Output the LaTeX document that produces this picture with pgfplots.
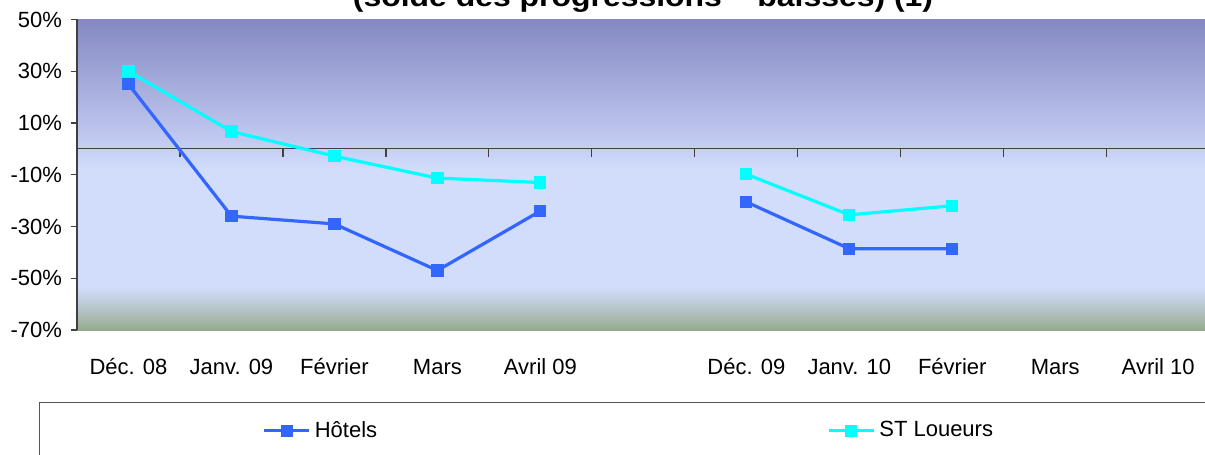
\documentclass[border=0pt]{standalone}
\usepackage{fontspec}
\setmainfont{Liberation Sans}
\usepackage{pgfplots}
\pgfplotsset{compat=1.18}
\definecolor{cA}{HTML}{96AA8D}
\definecolor{cB}{HTML}{B0BFBC}
\definecolor{cC}{HTML}{D2DDFC}
\definecolor{cD}{HTML}{C6CFF5}
\definecolor{cE}{HTML}{8588C2}
\definecolor{axisgray}{HTML}{404040}
\definecolor{legendgray}{HTML}{555555}
\definecolor{hotels}{HTML}{3366FF}
\definecolor{loueurs}{HTML}{00FFFF}
\pgfdeclareverticalshading{bgshade}{100bp}{color(0bp)=(cA); color(25bp)=(cA); color(27.7bp)=(cB); color(31.9bp)=(cC); color(50.8bp)=(cC); color(54.1bp)=(cD); color(75bp)=(cE); color(100bp)=(cE)}
\begin{document}
\begin{tikzpicture}
\begin{axis}[
  at={(0,0)}, anchor=south west, name=ax,
  scale only axis, width=566.35pt, height=155.25pt,
  xmin=-0.5, xmax=10.5, ymin=-70, ymax=50,
  axis background/.style={shading=bgshade},
  axis x line*=bottom, axis y line*=left,
  x axis line style={draw=none},
  y axis line style={draw=axisgray, line width=0.6pt, -},
  xtick={0,...,10},
  xticklabels={Déc. 08, Janv. 09, Février, Mars, Avril 09, {}, Déc. 09, Janv. 10, Février, Mars, Avril 10},
  x tick style={draw=none},
  ytick={-70,-50,-30,-10,10,30,50},
  yticklabels={-70\%,-50\%,-30\%,-10\%,10\%,30\%,50\%},
  y tick style={draw=axisgray, line width=0.6pt},
  tick align=outside, major tick length=3pt,
  ticklabel style={font=\fontsize{11}{13}\selectfont},
  xticklabel style={anchor=base, yshift=-19pt},
  yticklabel style={xshift=-1pt},
  unbounded coords=jump,
  legend columns=2,
  legend image code/.code={\draw[mark repeat=2,mark phase=2] plot coordinates {(0pt,0pt) (11.25pt,0pt) (22.5pt,0pt)};},
  legend style={at={(-0.03355,-0.2319)}, anchor=north west, draw=legendgray, line width=0.6pt, fill=white,
    inner xsep=111.5pt, inner ysep=7.25pt,
    nodes={inner sep=2pt, font=\fontsize{11}{13}\selectfont},
    /tikz/every even column/.append style={column sep=223pt}},
]
\draw[axisgray, line width=0.6pt] (axis cs:-0.5,0) -- (axis cs:10.5,0);
\pgfplotsinvokeforeach{-0.5,0.5,...,9.5}{\draw[axisgray, line width=0.6pt] (axis cs:#1,0) -- ([yshift=-4pt]axis cs:#1,0);}
\addplot[color=hotels, line width=1.6pt, mark=square*, mark size=2.25pt, mark options={solid, fill=hotels}]
  coordinates {(0,25) (1,-26) (2,-29) (3,-47) (4,-24) (5,nan) (6,-20.5) (7,-38.6) (8,-38.6)};
\addlegendentry{Hôtels}
\addplot[color=loueurs, line width=1.6pt, mark=square*, mark size=2.25pt, mark options={solid, fill=loueurs}]
  coordinates {(0,30) (1,6.7) (2,-2.8) (3,-11.3) (4,-13) (5,nan) (6,-9.8) (7,-25.5) (8,-22)};
\addlegendentry{ST Loueurs}
\end{axis}
\node[anchor=base, font=\bfseries\fontsize{14}{16}\selectfont] at (283pt,161.5pt) {\scalebox{1.14}[1]{(solde des progressions – baisses) (1)}};
\pgfresetboundingbox
\useasboundingbox (-38.5pt,-62.5pt) rectangle (564pt,165pt);
\end{tikzpicture}
\end{document}
